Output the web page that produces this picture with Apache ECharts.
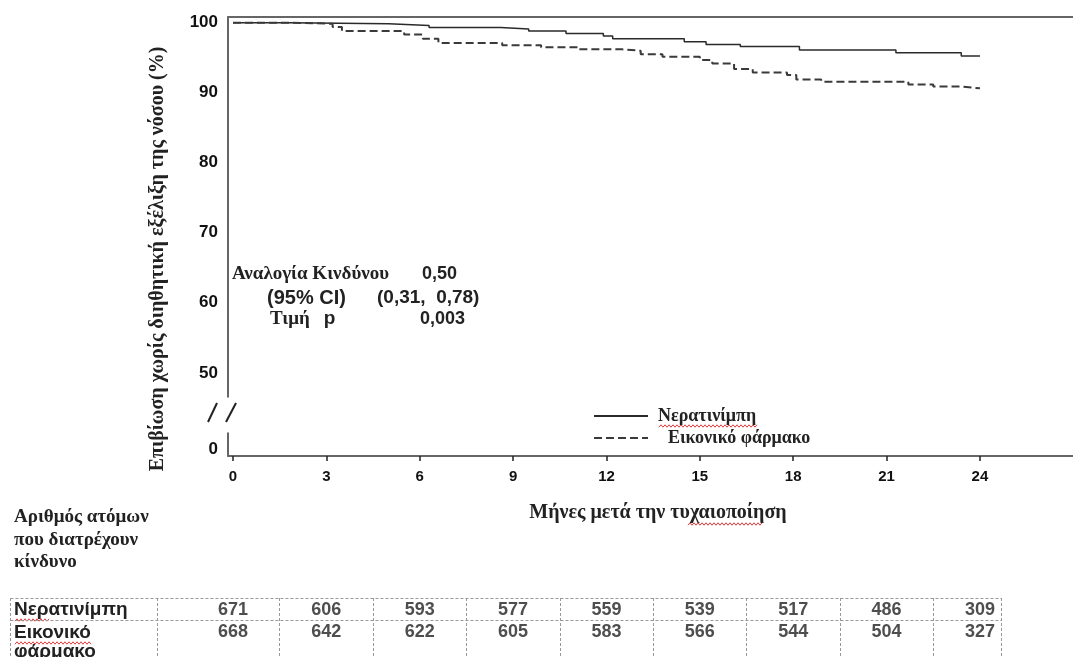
<!DOCTYPE html>
<html>
<head>
<meta charset="utf-8">
<title>KM</title>
<script src="https://cdn.jsdelivr.net/npm/echarts@6.0.0/dist/echarts.min.js"></script>
<style>
  html, body { margin: 0; padding: 0; background: #fff; }
  #chart { width: 1073px; height: 657px; }
</style>
</head>
<body>
<div id="chart"></div>
<script>
// months shown on the x axis and used as table columns
const months = [0, 3, 6, 9, 12, 15, 18, 21, 24]
const yTicksUpper = [50, 60, 70, 80, 90, 100]

// number at risk
const atRiskNeratinib = [671, 606, 593, 577, 559, 539, 517, 486, 309]
const atRiskPlacebo = [668, 642, 622, 605, 583, 566, 544, 504, 327]

// KM steps: [month where level starts, survival %]
const neratinibCurve = [
  [0, 99.9], [1.8, 99.75], [5.0, 99.5], [6.3, 99.2], [8.6, 99.0], [9.5, 98.7],
  [10.7, 98.35], [11.9, 98.0], [12.2, 97.6], [14.5, 97.2], [15.2, 96.8], [16.3, 96.5],
  [18.2, 96.0], [21.3, 95.6], [23.4, 95.15], [24, 95.15]
]
const placeboCurve = [
  [0, 99.9], [1.8, 99.75], [3.2, 99.3], [3.5, 98.7], [5.5, 98.2], [6.1, 97.6],
  [6.6, 97.0], [8.65, 96.7], [9.9, 96.4], [11.1, 96.1], [12.5, 95.9], [13.1, 95.4],
  [13.8, 95.05], [15.0, 94.6], [15.4, 94.1], [16.1, 93.3], [16.7, 92.8], [17.8, 92.45],
  [18.1, 91.8], [18.9, 91.5], [21.7, 91.1], [22.5, 90.8], [23.4, 90.55], [24, 90.55]
]

// dashed borders of the at-risk table (in months)
const tableCols = [-7.15, -2.44, 1.5, 4.5, 7.5, 10.5, 13.5, 16.5, 19.5, 22.5, 24.7]
const tableRows = [0, 1]

const nameNeratinib = 'Νερατινίμπη'
const namePlacebo = 'Εικονικό φάρμακο'

const serif = (size) => 'bold ' + size + 'px "Liberation Serif"'
const sans = (size) => 'bold ' + size + 'px "Liberation Sans"'
const xMin = -0.1606
const xMax = 26.99

const chart = echarts.init(document.getElementById('chart'))

// red spell-check squiggle under some words
const squiggle = (x1, x2, y) => {
  const pts = []
  for (let x = x1, k = 0; x <= x2; x += 2, k++) {
    pts.push([x, y + (k % 2 ? -1.2 : 1.2)])
  }
  return { type: 'polyline', shape: { points: pts }, style: { stroke: '#e23a3a', lineWidth: 1, fill: null }, silent: true }
}

const tableSeries = (values, row, withLines) => {
  const s = {
    type: 'scatter',
    xAxisIndex: 2,
    yAxisIndex: 2,
    silent: true,
    symbolSize: 1,
    itemStyle: { color: 'rgba(0,0,0,0)' },
    label: {
      show: true,
      position: 'inside',
      formatter: (p) => p.value[2],
      fontFamily: 'Liberation Sans',
      fontWeight: 'bold',
      fontSize: 18,
      color: '#222'
    },
    data: months.map((m, i) => [m, row + 0.55, values[i]])
  }
  if (withLines) {
    s.markLine = {
      silent: true,
      symbol: ['none', 'none'],
      label: { show: false },
      lineStyle: { type: [3, 2], color: '#999', width: 1 },
      data: tableCols.map(v => ({ xAxis: v })).concat(
        tableRows.map(r => [{ coord: [tableCols[0], r] }, { coord: [tableCols[tableCols.length - 1], r] }])
      )
    }
  }
  return s
}

const option = {
  animation: false,
  backgroundColor: '#fff',
  grid: [
    { left: 228, top: 17, right: 0, height: 380 },
    { left: 228, top: 433, right: 0, height: 23 },
    { left: 10, top: 598, right: 0, height: 62 }
  ],
  xAxis: [
    {
      gridIndex: 0, type: 'value', min: xMin, max: xMax, position: 'top',
      axisLine: { show: true, onZero: false, lineStyle: { color: '#666', width: 2 } },
      axisTick: { show: false }, axisLabel: { show: false }, splitLine: { show: false }
    },
    {
      gridIndex: 1, type: 'value', min: xMin, max: xMax, position: 'bottom',
      axisLine: { show: true, onZero: false, lineStyle: { color: '#666', width: 2 } },
      axisTick: { show: true, customValues: months, length: 5, lineStyle: { color: '#222', width: 1.5 } },
      axisLabel: {
        customValues: months, margin: 13, color: '#111',
        fontFamily: 'Liberation Sans', fontWeight: 'bold', fontSize: 15
      },
      splitLine: { show: false }
    },
    { gridIndex: 2, type: 'value', min: -7.165, max: xMax, show: false }
  ],
  yAxis: [
    {
      gridIndex: 0, type: 'value', min: 46.58, max: 100.71,
      axisLine: { show: true, onZero: false, lineStyle: { color: '#333', width: 1.5 } },
      axisTick: { show: false },
      axisLabel: {
        customValues: yTicksUpper, margin: 10, color: '#111',
        fontFamily: 'Liberation Sans', fontWeight: 'bold', fontSize: 17
      },
      splitLine: { show: false }
    },
    {
      gridIndex: 1, type: 'value', min: -1, max: 2.4,
      axisLine: { show: true, onZero: false, lineStyle: { color: '#333', width: 1.5 } },
      axisTick: { show: false },
      axisLabel: {
        customValues: [0], margin: 10, color: '#111',
        fontFamily: 'Liberation Sans', fontWeight: 'bold', fontSize: 17
      },
      splitLine: { show: false }
    },
    { gridIndex: 2, type: 'value', min: 0, max: 2.7, inverse: true, show: false }
  ],
  legend: {
    orient: 'vertical',
    left: 588,
    top: 402,
    itemWidth: 54,
    itemHeight: 14,
    itemGap: 4,
    itemStyle: { opacity: 0 },
    textStyle: { fontFamily: 'Liberation Serif', fontWeight: 'bold', fontSize: 18, color: '#222' },
    data: [
      { name: nameNeratinib, textStyle: { padding: [0, 0, 0, 5] } },
      { name: namePlacebo, textStyle: { padding: [0, 0, 0, 15] } }
    ]
  },
  series: [
    {
      name: nameNeratinib,
      type: 'line',
      step: 'end',
      xAxisIndex: 0,
      yAxisIndex: 0,
      symbol: 'none',
      lineStyle: { color: '#2a2a2a', width: 1.5 },
      itemStyle: { color: '#2a2a2a' },
      data: neratinibCurve
    },
    {
      name: namePlacebo,
      type: 'line',
      step: 'end',
      xAxisIndex: 0,
      yAxisIndex: 0,
      symbol: 'none',
      lineStyle: { color: '#3a3a3a', width: 2, type: [8, 4] },
      itemStyle: { color: '#3a3a3a' },
      data: placeboCurve
    },
    tableSeries(atRiskNeratinib, 0, true),
    tableSeries(atRiskPlacebo, 1, false)
  ],
  graphic: [
    // y axis title
    {
      type: 'text', x: 158, y: 259, rotation: Math.PI / 2,
      style: {
        text: 'Επιβίωση χωρίς διηθητική εξέλιξη της νόσου (%)',
        font: serif(20), fill: '#222', align: 'center', verticalAlign: 'middle'
      }
    },
    // x axis title
    {
      type: 'text', x: 658, y: 513,
      style: {
        text: 'Μήνες μετά την τυχαιοποίηση',
        font: serif(20), fill: '#222', align: 'center', verticalAlign: 'middle'
      }
    },
    squiggle(688, 762, 524),
    // axis break marks
    { type: 'line', shape: { x1: 208, y1: 422, x2: 217, y2: 403 }, style: { stroke: '#222', lineWidth: 2 } },
    { type: 'line', shape: { x1: 226, y1: 422, x2: 236, y2: 403 }, style: { stroke: '#222', lineWidth: 2 } },
    // hazard ratio box
    { type: 'text', x: 232, y: 274, style: { text: 'Αναλογία Κινδύνου', font: serif(19), fill: '#222', verticalAlign: 'middle' } },
    { type: 'text', x: 422, y: 274, style: { text: '0,50', font: sans(18), fill: '#222', verticalAlign: 'middle' } },
    { type: 'text', x: 267, y: 298, style: { text: '(95% CI)', font: sans(20), fill: '#222', verticalAlign: 'middle' } },
    { type: 'text', x: 377, y: 298, style: { text: '(0,31,  0,78)', font: sans(19), fill: '#222', verticalAlign: 'middle' } },
    {
      type: 'text', x: 270, y: 319,
      style: {
        text: '{s|Τιμή}{a|p}', fill: '#222', verticalAlign: 'middle',
        rich: {
          s: { font: serif(19), fill: '#222' },
          a: { font: sans(19), fill: '#222', padding: [0, 0, 0, 14] }
        }
      }
    },
    { type: 'text', x: 420, y: 319, style: { text: '0,003', font: sans(18), fill: '#222', verticalAlign: 'middle' } },
    // legend squiggle
    squiggle(659, 757, 426),
    // at risk table header and row names
    {
      type: 'text', x: 14, y: 506,
      style: {
        text: 'Αριθμός ατόμων\nπου διατρέχουν\nκίνδυνο',
        font: serif(19), fill: '#222', lineHeight: 22.5, verticalAlign: 'top'
      }
    },
    { type: 'text', x: 14, y: 610, style: { text: 'Νερατινίμπη', font: sans(19), fill: '#222', verticalAlign: 'middle' } },
    {
      type: 'text', x: 14, y: 623,
      style: { text: 'Εικονικό\nφάρμακο', font: sans(19), fill: '#222', lineHeight: 19, verticalAlign: 'top' }
    },
    squiggle(15, 50, 620),
    squiggle(15, 92, 643)
  ]
}

chart.setOption(option)
</script>
</body>
</html>
